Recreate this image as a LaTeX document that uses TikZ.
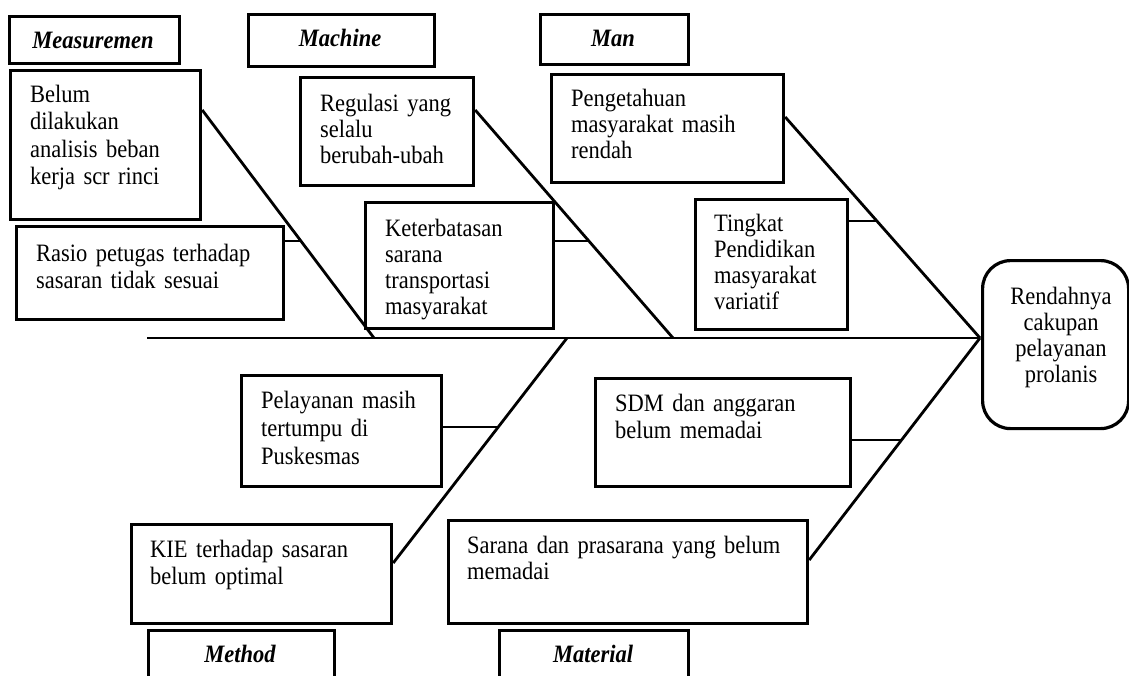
\documentclass[tikz,border=0pt]{standalone}
\usepackage{fontspec}
\setmainfont[FakeStretch=0.9]{Liberation Serif}
\usetikzlibrary{calc}
\begin{document}
\begin{tikzpicture}[x=1pt,y=-1pt,
  box/.style={draw, line width=3.2pt, inner sep=0pt, anchor=north west},
  txt/.style={inner sep=0pt, anchor=base west, text width=#1, align=left,
    font=\fontsize{25}{27.5}\selectfont},
  txt/.default=340pt,
  lab/.style={inner sep=0pt, anchor=base, font=\fontsize{25}{28}\selectfont\bfseries\itshape},
  bone/.style={line width=2.8pt},
  spine/.style={line width=2.2pt}]
\useasboundingbox (0,0) rectangle (1129,675);
\clip (0,0) rectangle (1129,675);

% category boxes
\node[box, minimum width=170pt, minimum height=47pt] (meas) at (8,15) {};
\node[lab] (measT) at (93,48) {Measuremen};
\node[box, minimum width=186pt, minimum height=52pt] (mach) at (247,13) {};
\node[lab] (machT) at (340,46) {Machine};
\node[box, minimum width=148pt, minimum height=50pt] (man) at (539,13) {};
\node[lab] (manT) at (613,46) {Man};
\node[box, minimum width=186pt, minimum height=80pt] (meth) at (147,629) {};
\node[lab] (methT) at (240,662) {Method};
\node[box, minimum width=189pt, minimum height=80pt] (mat) at (498,629) {};
\node[lab] (matT) at (593,662) {Material};

% cause boxes
\node[box, minimum width=190pt, minimum height=149pt] (belum) at (9,69) {};
\node[txt] (belumT) at (30,102) {Belum\\dilakukan\\analisis beban\\kerja scr rinci};
\node[box, minimum width=267pt, minimum height=93pt] (rasio) at (15,225) {};
\node[txt, font=\fontsize{25}{27.3}\selectfont] (rasioT) at (36,261.5) {Rasio petugas terhadap\\sasaran tidak sesuai};
\node[box, minimum width=173pt, minimum height=108pt] (regul) at (299,76) {};
\node[txt, font=\fontsize{25}{26}\selectfont] (regulT) at (320,111) {Regulasi yang\\selalu\\berubah-ubah};
\node[box, minimum width=188pt, minimum height=126pt] (keter) at (364,201) {};
\node[txt, font=\fontsize{25}{26}\selectfont] (keterT) at (385,236) {Keterbatasan\\sarana\\transportasi\\masyarakat};
\node[box, minimum width=232pt, minimum height=108pt] (penget) at (550,73) {};
\node[txt, font=\fontsize{25}{26}\selectfont] (pengetT) at (571,106) {Pengetahuan\\masyarakat masih\\rendah};
\node[box, minimum width=152pt, minimum height=130pt] (tingkat) at (694,198) {};
\node[txt, font=\fontsize{25}{26}\selectfont] (tingkatT) at (714,231) {Tingkat\\Pendidikan\\masyarakat\\variatif};
\node[box, minimum width=200pt, minimum height=111pt] (pelay) at (240,374) {};
\node[txt, font=\fontsize{25}{28}\selectfont] (pelayT) at (261,408.5) {Pelayanan masih\\tertumpu di\\Puskesmas};
\node[box, minimum width=260pt, minimum height=99pt] (kie) at (130,523) {};
\node[txt, font=\fontsize{25}{27}\selectfont] (kieT) at (150,557.5) {KIE terhadap sasaran\\belum optimal};
\node[box, minimum width=255pt, minimum height=108pt] (sdm) at (594,377) {};
\node[txt, font=\fontsize{25}{27}\selectfont] (sdmT) at (615,411) {SDM dan anggaran\\belum memadai};
\node[box, minimum width=359pt, minimum height=103pt] (sarana) at (447,519) {};
\node[txt, font=\fontsize{25}{26}\selectfont] (saranaT) at (467,553.5) {Sarana dan prasarana yang belum\\memadai};

% effect
\node[box, rounded corners=28pt, minimum width=146pt, minimum height=168pt] (effect) at (981,259) {};
\node[inner sep=0pt, anchor=base, text width=146pt, align=center,
  font=\fontsize{25}{26}\selectfont] (effectT) at (1061,304) {Rendahnya\\cakupan\\pelayanan\\prolanis};

% spine and joints
\coordinate (head) at (980,338);
\coordinate (tail) at (147,338);
\coordinate (mJ) at (374,338);
\coordinate (cJ) at (673,338);
\coordinate (tJ) at (567,338);
\draw[spine] (tail) -- (head);

% bones
\coordinate (mA) at ($(belum.north east)+(0,41)$);
\coordinate (cA) at ($(regul.north east)+(0,34)$);
\coordinate (nA) at ($(penget.north east)+(0,44)$);
\coordinate (tA) at ($(kie.north east)+(0,40)$);
\coordinate (sA) at ($(sarana.north east)+(0,41)$);
\draw[bone] (mA) -- (mJ);
\draw[bone] (cA) -- (cJ);
\draw[bone] (nA) -- (head);
\draw[bone] (tJ) -- (tA);
\draw[bone] (head) -- (sA);

% ribs
\coordinate (r1) at ($(mA)!0.5746!(mJ)$);
\coordinate (r2) at ($(cA)!0.5746!(cJ)$);
\coordinate (r3) at ($(nA)!0.4706!(head)$);
\coordinate (r4) at ($(tJ)!0.3956!(tA)$);
\coordinate (r5) at ($(head)!0.4595!(sA)$);
\draw[bone] (rasio.east |- r1) -- (r1);
\draw[bone] (keter.east |- r2) -- (r2);
\draw[bone] (tingkat.east |- r3) -- (r3);
\draw[bone] (pelay.east |- r4) -- (r4);
\draw[bone] (sdm.east |- r5) -- (r5);
\end{tikzpicture}
\end{document}
